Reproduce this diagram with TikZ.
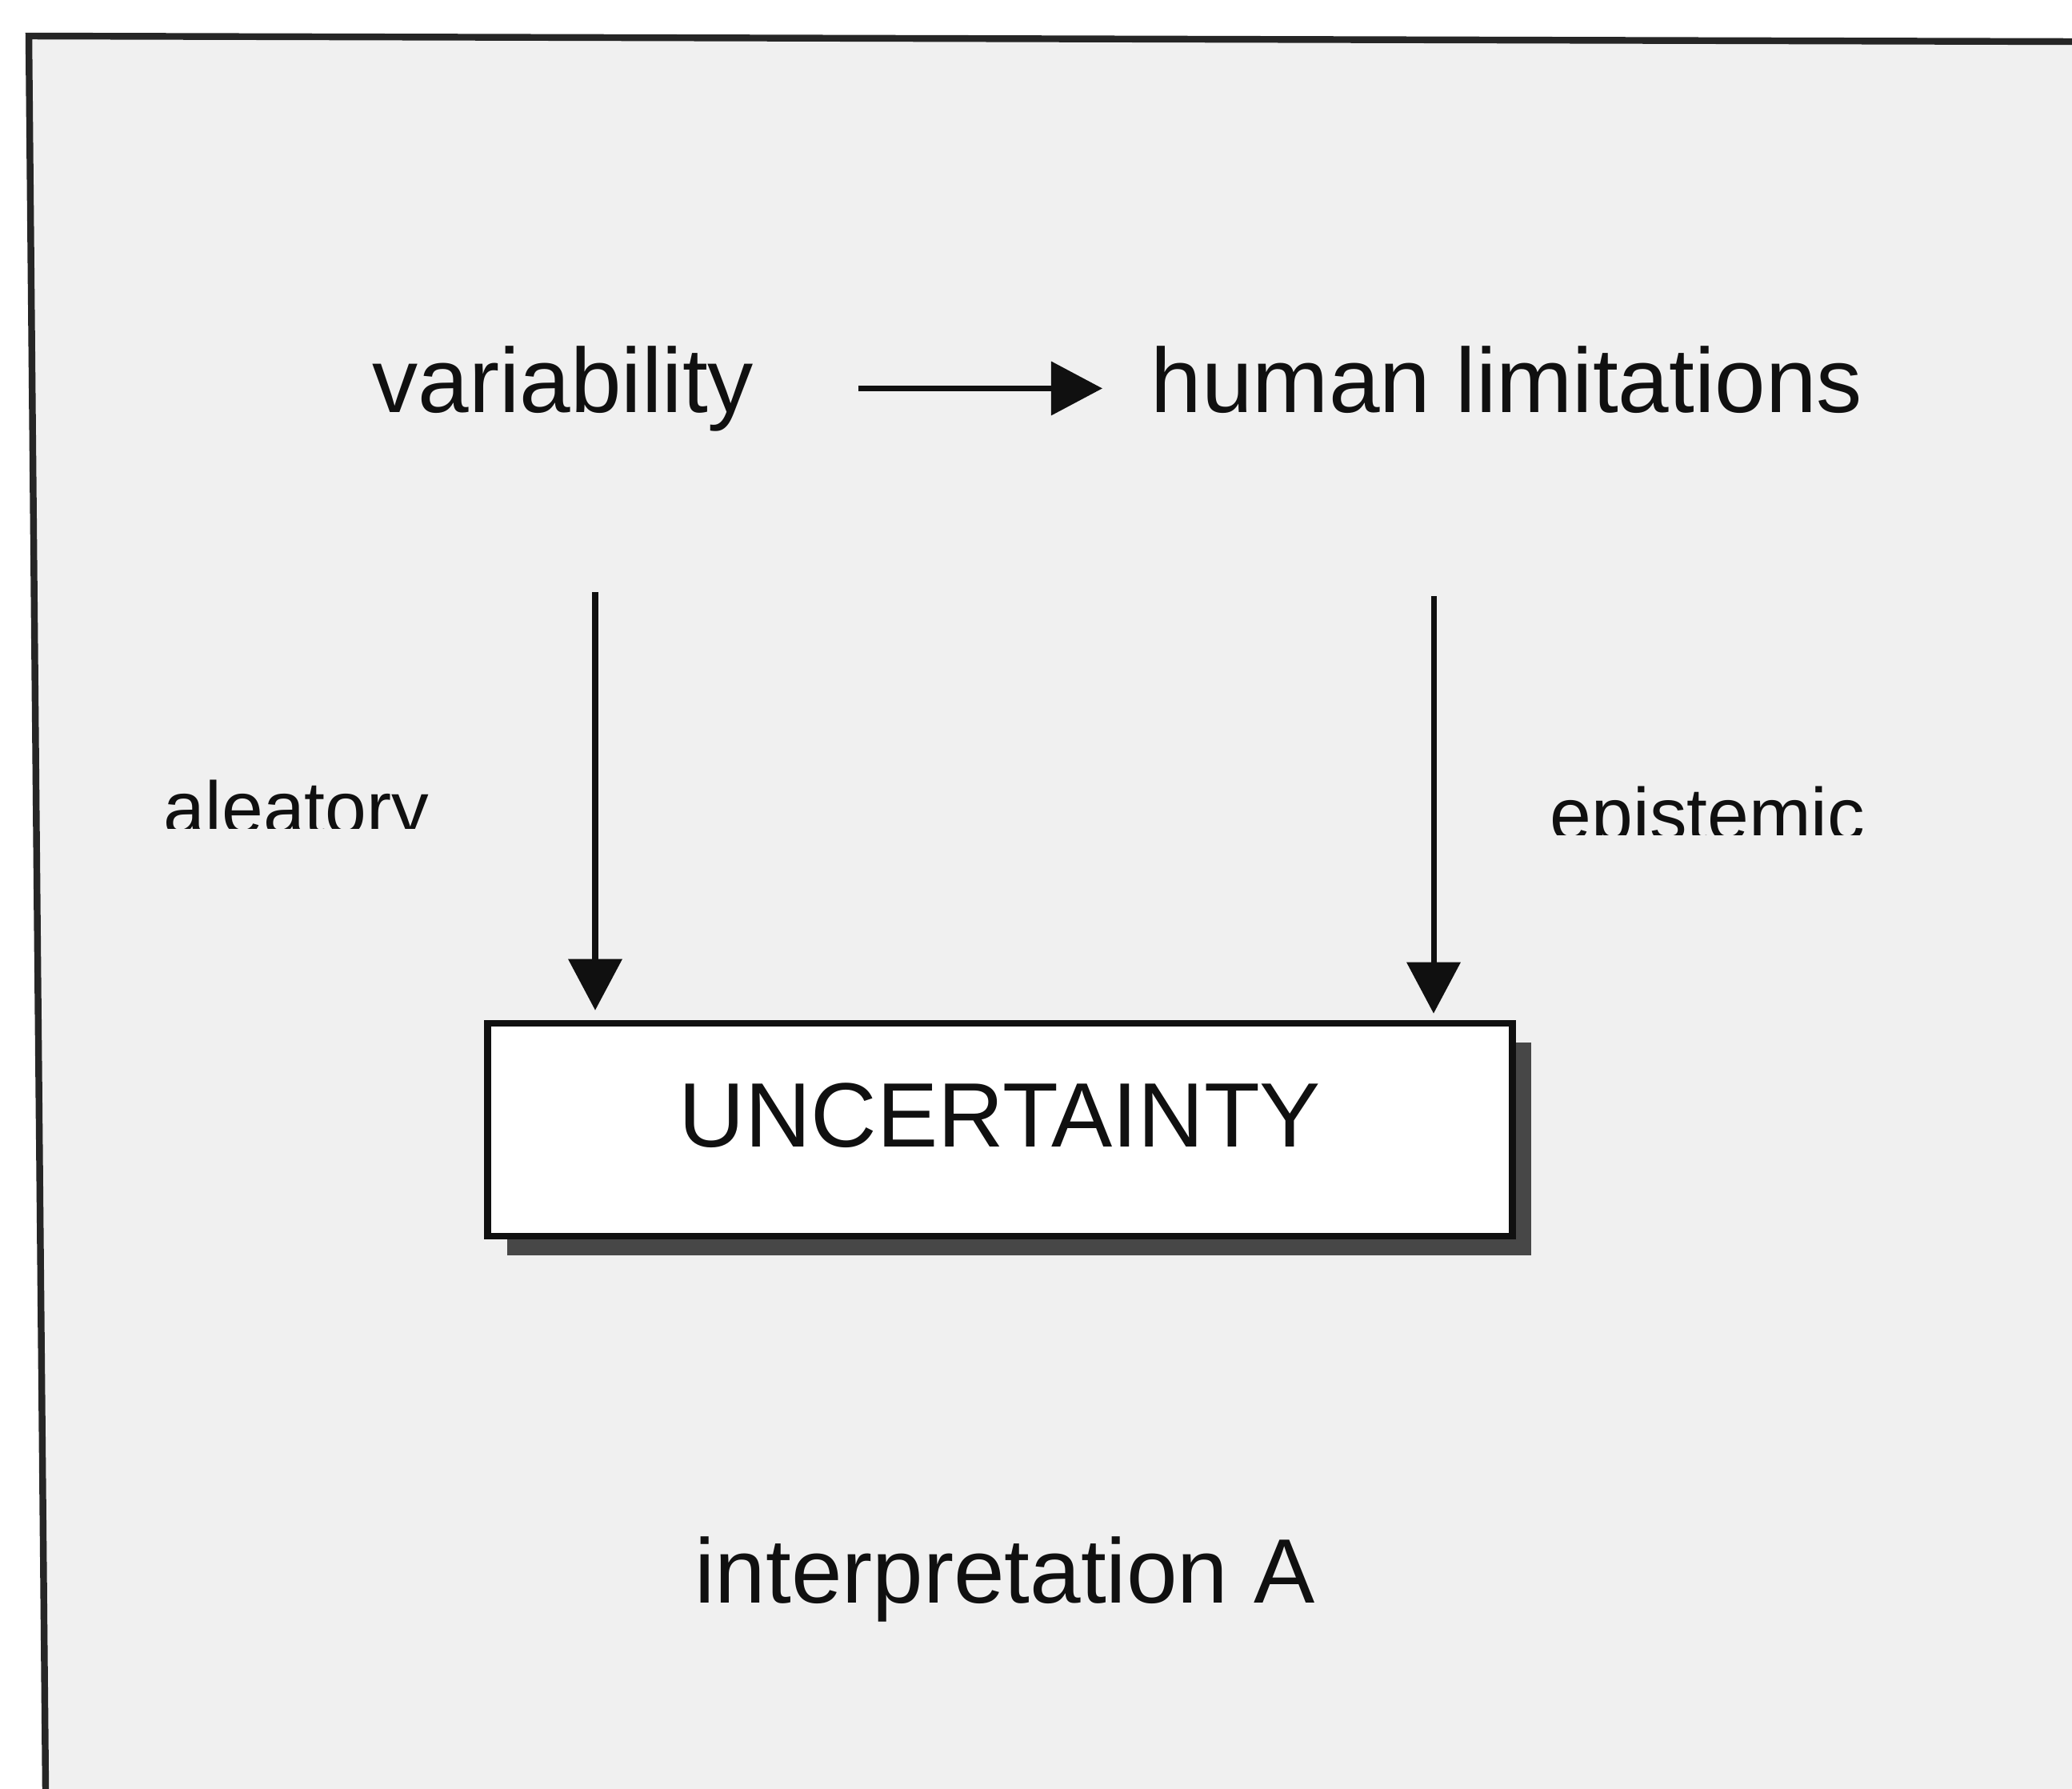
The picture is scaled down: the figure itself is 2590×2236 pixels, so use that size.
\documentclass[tikz,border=0pt]{standalone}
\usepackage{fontspec}
\setsansfont{Liberation Sans}
\usepackage{xcolor}
\definecolor{panelGray}{HTML}{F0F0F0}
\definecolor{inkBlack}{HTML}{101010}
\definecolor{shadowGray}{HTML}{474747}
\definecolor{frameGray}{HTML}{262626}
\usepackage{tikz}
\usetikzlibrary{
    arrows.meta,
    shadows,
    positioning
}
\tikzset{
    % Base style for all text labels
    label base/.style={
        font=\sffamily,
        text=inkBlack,
        inner sep=0pt,
    },
    % Main terms - large plain text
    term/.style={
        label base,
        font=\sffamily\fontsize{32.5}{39}\selectfont,
    },
    % Side notes next to the vertical arrows
    side note/.style={
        label base,
        font=\sffamily\fontsize{26.5}{32}\selectfont,
    },
    % Central concept - white box with a hard drop shadow
    concept box/.style={
        term,
        rectangle,
        draw=inkBlack,
        line width=2.4pt,
        fill=white,
        minimum width=12.8cm,
        minimum height=2.66cm,
        text depth=0.37cm,
        drop shadow={
            shadow xshift=0.24cm,
            shadow yshift=-0.24cm,
            fill=shadowGray,
            opacity=1
        },
    },
    % Outer panel border
    frame line/.style={
        draw=frameGray,
        line width=2.4pt,
    },
    % Plain black arrow with a filled triangle tip
    arrow/.style={
        -{Triangle[length=0.64cm, width=0.66cm]},
        line width=2pt,
        draw=inkBlack,
    },
}

\begin{document}
\begin{tikzpicture}[x=0.01cm, y=0.01cm]
    \useasboundingbox (0,0) rectangle (2590,-2236);
    \fill[white] (0,0) rectangle (2590,-2236);
    \fill[panelGray] (36,-45) -- (2590,-52) -- (2590,-2236) -- (57,-2236) -- cycle;
    \draw[frame line] (57,-2236) -- (36,-45) -- (2590,-52);

    \node (var) [term, anchor=base west] at (465,-515) {variability};
    \node (human) [term, base right=4.95cm of var] {human limitations};
    \node (unc) [concept box] at (1250,-1412) {UNCERTAINTY};
    \node (interp) [term, anchor=base] at (1256,-2003) {interpretation A};

    \begin{scope}
        \clip (0,-1035) rectangle (1000,-900);
        \node (alea) [side note, anchor=base west] at (204,-1042) {aleatory};
    \end{scope}
    \begin{scope}
        \clip (1800,-1043) rectangle (2590,-900);
        \node (epis) [side note, anchor=base west] at (1937,-1050) {epistemic};
    \end{scope}

    \coordinate (alea top) at (744,-740);
    \coordinate (epis top) at (1792,-745);

    \draw [arrow, shorten <=1.3cm, shorten >=0.6cm] (var.east) -- (var.east -| human.west);
    \draw [arrow, shorten >=0.12cm] (alea top) -- (alea top |- unc.north);
    \draw [arrow, shorten >=0.08cm] (epis top) -- (epis top |- unc.north);
\end{tikzpicture}
\end{document}
